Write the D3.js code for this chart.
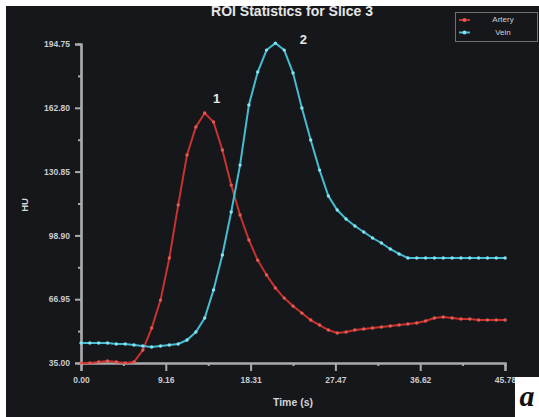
<!DOCTYPE html>
<html><head><meta charset="utf-8">
<script src="https://cdn.jsdelivr.net/npm/d3@7"></script>
<style>html,body{margin:0;padding:0;background:#fff;}svg{display:block;}</style>
</head><body>
<svg id="c" width="539" height="417"></svg>
<script>
const timeStep = 0.954;
const artery = [35.0,35.0,35.5,36.0,35.5,35.0,35.5,41.5,52.5,66.5,87.6,114.1,139.2,153.2,160.2,155.7,141.7,124.1,109.1,96.6,86.5,79.1,72.6,67.5,63.5,60.0,56.5,54.0,51.5,50.0,50.5,51.5,52.0,52.5,53.0,53.5,54.0,54.5,55.0,56.0,57.5,58.0,57.5,57.0,57.0,56.5,56.5,56.5,56.5];
const vein = [45.0,45.0,45.0,45.0,44.5,44.5,44.0,43.5,43.0,43.5,44.0,44.5,46.5,50.5,57.5,71.6,89.1,110.6,134.1,164.2,180.7,191.7,195.2,191.7,180.2,162.7,146.7,131.6,118.6,111.6,107.1,103.6,100.6,97.6,95.1,92.1,89.6,87.6,87.6,87.6,87.6,87.6,87.6,87.6,87.6,87.6,87.6,87.6,87.6];
const xTicks = [0, 9.156, 18.312, 27.468, 36.624, 45.78];
const xTickLabels = ["0.00","9.16","18.31","27.47","36.62","45.78"];
const yTicks = [35.00, 66.95, 98.90, 130.85, 162.80, 194.75];
const yTickLabels = ["35.00","66.95","98.90","130.85","162.80","194.75"];
const seriesNames = ["Artery","Vein"];
const seriesColors = ["#c8322f","#45bcd2"];
const pointColors = ["#e45a53","#86e2f0"];
const peakLabels = [{s:0, i:14, text:"1"}, {s:1, i:22, text:"2"}];
const titleText = "ROI Statistics for Slice 3";

const svg = d3.select("#c");
const W = 539, H = 417;
svg.append("rect").attr("width",W).attr("height",H).attr("fill","#15171b");

const x = d3.scaleLinear().domain([0,45.78]).range([81,505]);
const y = d3.scaleLinear().domain([35,194.75]).range([363,44]);
const font = "'Liberation Sans', Arial, sans-serif";

// title (partly hidden by the white border)
svg.append("text").attr("x",292).attr("y",16).attr("text-anchor","middle")
  .attr("font-family",font).attr("font-weight","bold").attr("font-size",14)
  .attr("fill","#e6e6e6").text(titleText);

// minor ticks
const xMinor = xTicks.slice(0,-1).map((t,i)=>(t+xTicks[i+1])/2);
const yMinor = yTicks.slice(0,-1).map((t,i)=>(t+yTicks[i+1])/2);

const axisColor = "#a9abae";
const gx = svg.append("g").attr("transform","translate(0,363)")
  .call(d3.axisBottom(x).tickValues(xTicks).tickFormat((d,i)=>xTickLabels[i]).tickSize(8).tickPadding(6));
const gxm = svg.append("g").attr("transform","translate(0,363)")
  .call(d3.axisBottom(x).tickValues(xMinor).tickFormat("").tickSize(3));
const gy = svg.append("g").attr("transform","translate(81,0)")
  .call(d3.axisLeft(y).tickValues(yTicks).tickFormat((d,i)=>yTickLabels[i]).tickSize(6).tickPadding(5));
const gym = svg.append("g").attr("transform","translate(81,0)")
  .call(d3.axisLeft(y).tickValues(yMinor).tickFormat("").tickSize(3));
[gx,gxm,gy,gym].forEach(g=>{
  g.select(".domain").attr("stroke",axisColor).attr("stroke-width",2.2);
  g.selectAll(".tick line").attr("stroke",axisColor).attr("stroke-width",2);
  g.selectAll(".tick text").attr("fill","#c9cbce").attr("font-family",font)
   .attr("font-size",8.5).attr("font-weight","bold");
});

// axis titles
svg.append("text").attr("transform","translate(25,205) rotate(-90)").attr("text-anchor","middle")
  .attr("dominant-baseline","middle").attr("font-family",font).attr("font-weight","bold")
  .attr("font-size",9.5).attr("fill","#d4d4d4").text("HU");
svg.append("text").attr("x",293).attr("y",406).attr("text-anchor","middle")
  .attr("font-family",font).attr("font-weight","bold").attr("font-size",10.5)
  .attr("fill","#d4d4d4").text("Time (s)");

// series
const data = [artery, vein];
const line = d3.line().x((d,i)=>x(i*timeStep)).y(d=>y(d));
data.forEach((s,k)=>{
  svg.append("path").datum(s).attr("d",line).attr("fill","none")
    .attr("stroke",seriesColors[k]).attr("stroke-width",2);
  svg.append("g").selectAll("circle").data(s).join("circle")
    .attr("cx",(d,i)=>x(i*timeStep)).attr("cy",d=>y(d)).attr("r",1.7)
    .attr("fill",pointColors[k]);
});

// peak labels
peakLabels.forEach(p=>{
  const v = data[p.s][p.i];
  svg.append("text").attr("x",x(p.i*timeStep)+ (p.s===0?12:28)).attr("y",y(v)-(p.s===0?10:-1))
    .attr("text-anchor","middle").attr("font-family",font).attr("font-weight","bold")
    .attr("font-size",13).attr("fill","#e8e8e8").text(p.text);
});

// legend
const lg = svg.append("g");
lg.append("rect").attr("x",455.5).attr("y",12.5).attr("width",82).attr("height",29)
  .attr("fill","#15171b").attr("stroke","#6e7073").attr("stroke-width",1);
seriesNames.forEach((n,k)=>{
  const yy = 20 + k*12.5;
  lg.append("line").attr("x1",459).attr("x2",470).attr("y1",yy).attr("y2",yy)
    .attr("stroke",seriesColors[k]).attr("stroke-width",2);
  lg.append("circle").attr("cx",464.5).attr("cy",yy).attr("r",2).attr("fill",pointColors[k]);
  lg.append("text").attr("x",503).attr("y",yy).attr("text-anchor","middle")
    .attr("dominant-baseline","middle").attr("font-family",font).attr("font-size",8)
    .attr("fill","#d0d0d0").text(n);
});

// white border strips and panel label
svg.append("rect").attr("x",0).attr("y",0).attr("width",W).attr("height",6).attr("fill","#fff");
svg.append("rect").attr("x",0).attr("y",0).attr("width",6).attr("height",H).attr("fill","#fff");
svg.append("rect").attr("x",515).attr("y",377).attr("width",24).attr("height",40).attr("fill","#fff");
svg.append("text").attr("x",527).attr("y",406).attr("text-anchor","middle")
  .attr("font-family","'Liberation Serif', 'DejaVu Serif', serif").attr("font-style","italic")
  .attr("font-weight","bold").attr("font-size",30).attr("fill","#111").text("a");
</script>
</body></html>
